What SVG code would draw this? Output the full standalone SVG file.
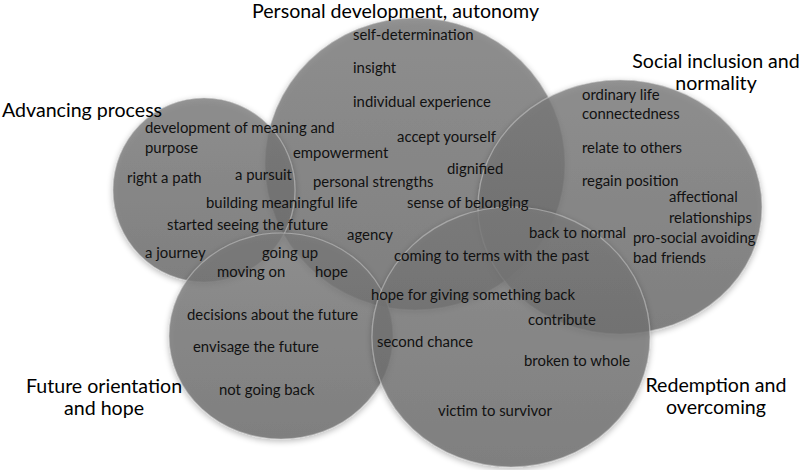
<svg xmlns="http://www.w3.org/2000/svg" width="800" height="470" viewBox="0 0 800 470">
  <defs>
    <linearGradient id="shade" x1="0" y1="0" x2="0" y2="1">
      <stop offset="0" stop-color="#7c7c7c"/>
      <stop offset="1" stop-color="#6a6a6a"/>
    </linearGradient>
    <filter id="soft" x="-10%" y="-10%" width="120%" height="125%">
      <feGaussianBlur in="SourceAlpha" stdDeviation="3" result="b"/>
      <feOffset in="b" dx="0" dy="2" result="o"/>
      <feComponentTransfer in="o" result="s">
        <feFuncA type="linear" slope="0.35"/>
      </feComponentTransfer>
      <feMerge>
        <feMergeNode in="s"/>
        <feMergeNode in="SourceGraphic"/>
      </feMerge>
    </filter>
  </defs>
  <style>
    .set { fill: url(#shade); fill-opacity: 0.78; stroke: #c8c8c8; stroke-opacity: 0.55; stroke-width: 1.2; filter: url(#soft); }
    .lbl { font-family: Lato, "Open Sans", "Liberation Sans", sans-serif; font-size: 14.9px; fill: #111; }
    .ttl { font-family: Lato, "Open Sans", "Liberation Sans", sans-serif; font-size: 19.6px; fill: #000; }
    .mid { text-anchor: middle; }
  </style>

  <!-- set shapes -->
  <g id="node-personal-development"><ellipse class="set" cx="415" cy="164" rx="150" ry="146"/></g>
  <g id="node-advancing-process"><ellipse class="set" cx="204" cy="190" rx="91" ry="92"/></g>
  <g id="node-social-inclusion"><ellipse class="set" cx="620" cy="207" rx="142" ry="127"/></g>
  <g id="node-future-orientation"><ellipse class="set" cx="281" cy="336" rx="112" ry="103"/></g>
  <g id="node-redemption"><ellipse class="set" cx="511" cy="337" rx="139" ry="130"/></g>

  <g id="connectors"/>

  <!-- titles -->
  <g id="titles">
    <text class="ttl" x="252" y="18">Personal development, autonomy</text>
    <text class="ttl" x="2" y="117">Advancing process</text>
    <text class="ttl mid" x="716" y="68">Social inclusion and</text>
    <text class="ttl mid" x="716" y="90">normality</text>
    <text class="ttl mid" x="104" y="393">Future orientation</text>
    <text class="ttl mid" x="104" y="415">and hope</text>
    <text class="ttl mid" x="716" y="392">Redemption and</text>
    <text class="ttl mid" x="716" y="414">overcoming</text>
  </g>

  <!-- labels -->
  <g id="labels-personal-development">
    <text class="lbl" x="353" y="40">self-determination</text>
    <text class="lbl" x="353" y="73">insight</text>
    <text class="lbl" x="353" y="107">individual experience</text>
    <text class="lbl" x="397" y="142">accept yourself</text>
    <text class="lbl" x="293" y="158">empowerment</text>
    <text class="lbl" x="447" y="174">dignified</text>
    <text class="lbl" x="313" y="187">personal strengths</text>
    <text class="lbl" x="407" y="208">sense of belonging</text>
    <text class="lbl" x="347" y="240">agency</text>
    <text class="lbl" x="394" y="261">coming to terms with the past</text>
  </g>
  <g id="labels-advancing-process">
    <text class="lbl" x="145" y="133">development of meaning and</text>
    <text class="lbl" x="145" y="153">purpose</text>
    <text class="lbl" x="127" y="183">right a path</text>
    <text class="lbl" x="235" y="180">a pursuit</text>
    <text class="lbl" x="206" y="208">building meaningful life</text>
    <text class="lbl" x="167" y="230">started seeing the future</text>
    <text class="lbl" x="145" y="258">a journey</text>
    <text class="lbl" x="262" y="258">going up</text>
    <text class="lbl" x="217" y="277">moving on</text>
  </g>
  <g id="labels-social-inclusion">
    <text class="lbl" x="582" y="100">ordinary life</text>
    <text class="lbl" x="582" y="119">connectedness</text>
    <text class="lbl" x="582" y="153">relate to others</text>
    <text class="lbl" x="582" y="186">regain position</text>
    <text class="lbl" x="669" y="202">affectional</text>
    <text class="lbl" x="669" y="223">relationships</text>
    <text class="lbl" x="529" y="238">back to normal</text>
    <text class="lbl" x="633" y="243">pro-social avoiding</text>
    <text class="lbl" x="633" y="263">bad friends</text>
  </g>
  <g id="labels-future-orientation">
    <text class="lbl" x="315" y="277">hope</text>
    <text class="lbl" x="187" y="320">decisions about the future</text>
    <text class="lbl" x="193" y="352">envisage the future</text>
    <text class="lbl" x="219" y="395">not going back</text>
  </g>
  <g id="labels-redemption">
    <text class="lbl" x="371" y="300">hope for giving something back</text>
    <text class="lbl" x="528" y="325">contribute</text>
    <text class="lbl" x="377" y="347">second chance</text>
    <text class="lbl" x="524" y="366">broken to whole</text>
    <text class="lbl" x="438" y="416">victim to survivor</text>
  </g>
</svg>
